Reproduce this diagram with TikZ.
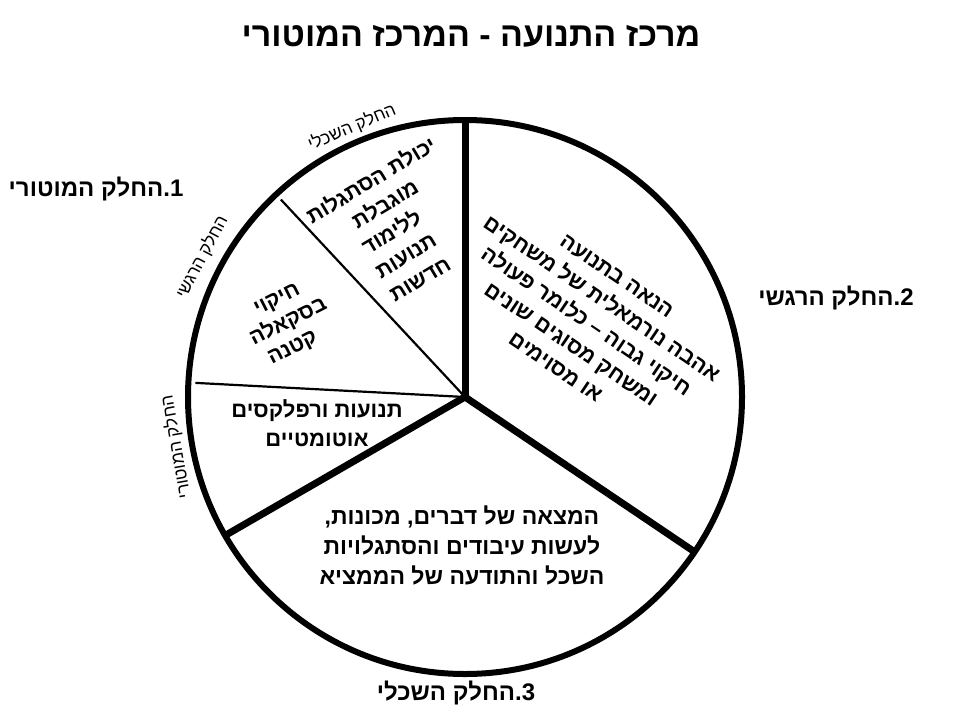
\documentclass[tikz,border=0pt]{standalone}
\usepackage{fontspec}
\setmainfont{Liberation Sans}
\newfontfamily\heb[Script=Hebrew]{Liberation Sans}
\TeXXeTstate=1
\newcommand{\hb}[1]{\beginR #1\endR}
\usetikzlibrary{calc}
\tikzset{
  rim/.style={line width=6pt},
  thickspoke/.style={line width=7pt},
  thinspoke/.style={line width=2.2pt},
  titletxt/.style={font=\heb\bfseries\fontsize{34}{40}\selectfont, inner sep=0pt},
  parttxt/.style={font=\heb\bfseries\fontsize{24}{28}\selectfont, inner sep=0pt},
  arctxt/.style={font=\heb\fontsize{17.5}{20}\selectfont, inner sep=0pt},
  intxt/.style={font=\heb\bfseries\fontsize{22}{29}\selectfont, inner sep=0pt, align=center},
  rottxt/.style={font=\heb\bfseries\fontsize{21.5}{27.5}\selectfont, inner sep=0pt, align=center},
}
\begin{document}
\begin{tikzpicture}[x=1pt,y=-1pt]
\useasboundingbox[fill=white] (0,0) rectangle (960,720);
\coordinate (c) at (465,397);
\path (c) ++(90:279pt) coordinate (eTop);
\path (c) ++(-34:277pt) coordinate (eRight);
\path (c) ++(210:277pt) coordinate (eLeft);
\path (c) ++(177:270pt) coordinate (tLeft);
\path (c) ++(133:270pt) coordinate (tUp);

\draw[rim] (c) circle[radius=277pt];
\draw[thickspoke] (c) -- (eTop);
\draw[thickspoke] (c) -- (eRight);
\draw[thickspoke] (c) -- (eLeft);
\draw[thinspoke] (c) -- (tLeft);
\draw[thinspoke] (c) -- (tUp);

\node[titletxt] (title) at (471,36) {\hb{מרכז התנועה - המרכז המוטורי}};
\node[parttxt] (p1) at (96,189) {\hb{1.החלק המוטורי}};
\node[parttxt] (p2) at (836,298) {\hb{2.החלק הרגשי}};
\node[parttxt] (p3) at (456,693) {\hb{3.החלק השכלי}};

\node[arctxt, rotate=23] (aS) at (352,127) {\hb{החלק השכלי}};
\node[arctxt, rotate=62] (aR) at (202,257) {\hb{החלק הרגשי}};
\node[arctxt, rotate=100] (aM) at (176,447) {\hb{החלק המוטורי}};

\node[rottxt, rotate=31] (s1) at (391,231) {\hspace*{18pt}\hb{יכולת הסתגלות}\\\hspace*{18pt}\hb{מוגבלת}\\\hb{ללימוד}\\\hb{תנועות}\\\hb{חדשות}};
\node[rottxt, rotate=27, font=\heb\bfseries\fontsize{21.5}{25}\selectfont] (s2) at (289,323) {\hb{חיקוי}\\\hb{בסקאלה}\\\hb{קטנה}\hspace*{16pt}};
\node[intxt] (s3) at (317,423) {\hb{תנועות ורפלקסים}\\\hb{אוטומטיים}};
\node[intxt, font=\heb\bfseries\fontsize{23}{30}\selectfont] (s4) at (462,545) {\hb{המצאה של דברים, מכונות,}\\\hb{לעשות עיבודים והסתגלויות}\\\hb{השכל והתודעה של הממציא}};
\node[rottxt, rotate=-34] (s5) at (586,322) {\hb{הנאה בתנועה}\\\hb{אהבה נורמאלית של משחקים}\\\hb{חיקוי גבוה – כלומר פעולה}\\\hb{ומשחק מסוגים שונים}\\\hb{או מסוימים}};
\end{tikzpicture}
\end{document}
